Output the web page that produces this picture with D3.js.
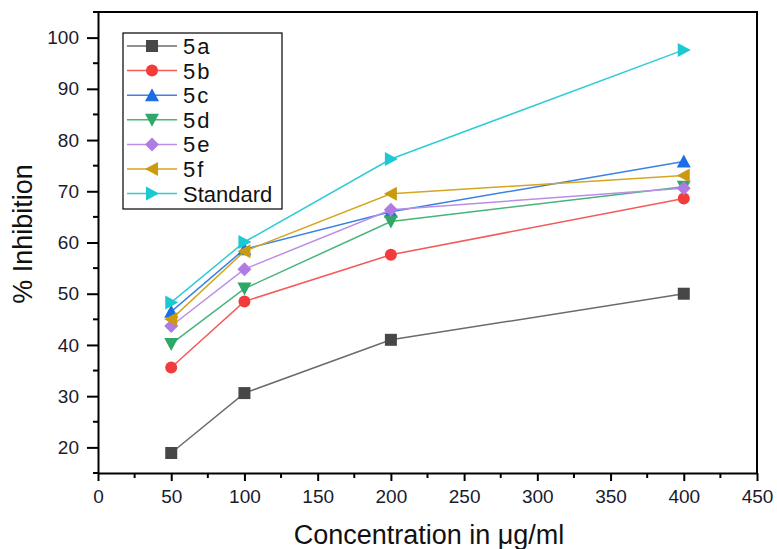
<!DOCTYPE html>
<html>
<head>
<meta charset="utf-8">
<script src="https://cdn.jsdelivr.net/npm/d3@7"></script>
<style>
  body { margin: 0; background: #fff; }
  text { font-family: "Liberation Sans", Arial, sans-serif; }
</style>
</head>
<body>
<div id="chart"></div>
<script>
// Data
var concentrations = [50, 100, 200, 400];
var seriesNames = ["5a", "5b", "5c", "5d", "5e", "5f", "Standard"];
var v5a = [18.9, 30.6, 41.0, 50.0];
var v5b = [35.6, 48.5, 57.6, 68.6];
var v5c = [46.5, 58.7, 66.0, 75.8];
var v5d = [40.2, 51.0, 64.1, 70.9];
var v5e = [43.7, 54.8, 66.4, 70.6];
var v5f = [45.0, 58.3, 69.5, 73.1];
var vStd = [48.3, 60.1, 76.3, 97.6];
var xTicks = [0, 50, 100, 150, 200, 250, 300, 350, 400, 450];
var yTicks = [20, 30, 40, 50, 60, 70, 80, 90, 100];

var colors = ["#474747", "#f23c3c", "#1b6ee3", "#2fa867", "#b07be2", "#cc9a0e", "#1cc8d2"];
var lineColors = ["#6b6b6b", "#f55a5a", "#3a82e6", "#47b47c", "#bb8ee6", "#d5a620", "#30ccd6"];
var shapes = ["square", "circle", "up", "down", "diamond", "left", "right"];
var allValues = [v5a, v5b, v5c, v5d, v5e, v5f, vStd];

var W = 777, H = 549;
var margin = {top: 12, right: 20, bottom: 76, left: 98},
    width = 757 - margin.left,
    height = 473 - margin.top;

var svg = d3.select("#chart")
  .append("svg")
    .attr("width", W)
    .attr("height", H)
  .append("g")
    .attr("transform", "translate(" + margin.left + "," + margin.top + ")");

var x = d3.scaleLinear().domain([0, 450]).range([0, width]);
var y = d3.scaleLinear().domain([15, 105]).range([height, 0]);

// frame (top/right)
svg.append("path")
  .attr("d", "M0,0H" + width + "V" + height)
  .attr("fill", "none")
  .attr("stroke", "#000")
  .attr("stroke-width", 2);

// minor ticks
svg.append("g")
  .selectAll("line")
  .data(d3.range(25, 450, 50))
  .enter().append("line")
    .attr("x1", function(d) { return x(d); })
    .attr("x2", function(d) { return x(d); })
    .attr("y1", height)
    .attr("y2", height + 5)
    .attr("stroke", "#000").attr("stroke-width", 2);
svg.append("g")
  .selectAll("line")
  .data(d3.range(15, 106, 10))
  .enter().append("line")
    .attr("x1", 0).attr("x2", -5)
    .attr("y1", function(d) { return y(d); })
    .attr("y2", function(d) { return y(d); })
    .attr("stroke", "#000").attr("stroke-width", 2);

// X axis
var xAxis = svg.append("g")
  .attr("transform", "translate(0," + height + ")")
  .call(d3.axisBottom(x).tickValues(xTicks).tickSize(8).tickPadding(9).tickSizeOuter(0));
// Y axis
var yAxis = svg.append("g")
  .call(d3.axisLeft(y).tickValues(yTicks).tickSize(11).tickPadding(8).tickSizeOuter(0));

[xAxis, yAxis].forEach(function(a) {
  a.select(".domain").attr("stroke-width", 2);
  a.selectAll(".tick line").attr("stroke-width", 2);
  a.selectAll(".tick text")
    .attr("font-size", 19)
    .attr("fill", "#1a1a2e")
    .style("font-family", "'Liberation Sans', Arial, sans-serif");
});

// marker shapes
function markerPath(shape, s) {
  var h = s / 2;
  switch (shape) {
    case "square": return "M" + (-h) + "," + (-h) + "h" + s + "v" + s + "h" + (-s) + "Z";
    case "circle": return d3.symbol(d3.symbolCircle, Math.PI * h * h)();
    case "up": return "M0," + (-h - 1) + "L" + (h + 1) + "," + (h) + "L" + (-h - 1) + "," + (h) + "Z";
    case "down": return "M0," + (h + 1) + "L" + (h + 1) + "," + (-h) + "L" + (-h - 1) + "," + (-h) + "Z";
    case "left": return "M" + (-h - 1) + ",0L" + h + "," + (-h - 1) + "L" + h + "," + (h + 1) + "Z";
    case "right": return "M" + (h + 1) + ",0L" + (-h) + "," + (-h - 1) + "L" + (-h) + "," + (h + 1) + "Z";
    case "diamond": return "M0," + (-h - 1) + "L" + (h + 1) + ",0L0," + (h + 1) + "L" + (-h - 1) + ",0Z";
  }
}

var line = d3.line()
  .x(function(d) { return x(d[0]); })
  .y(function(d) { return y(d[1]); });

// Lines and markers
allValues.forEach(function(vals, i) {
  var pts = concentrations.map(function(c, j) { return [c, vals[j]]; });
  svg.append("path")
    .datum(pts)
    .attr("d", line)
    .attr("fill", "none")
    .attr("stroke", lineColors[i])
    .attr("stroke-width", 1.5);
  svg.append("g")
    .selectAll("path")
    .data(pts)
    .enter().append("path")
      .attr("transform", function(d) { return "translate(" + x(d[0]) + "," + y(d[1]) + ")"; })
      .attr("d", markerPath(shapes[i], 12))
      .attr("fill", colors[i]);
});

// Legend
var legend = svg.append("g").attr("transform", "translate(" + (123 - margin.left) + "," + (33 - margin.top) + ")");
legend.append("rect")
  .attr("width", 159).attr("height", 176)
  .attr("fill", "#fff").attr("stroke", "#000").attr("stroke-width", 1.2);
seriesNames.forEach(function(name, i) {
  var row = legend.append("g").attr("transform", "translate(0," + (13 + i * 24.6) + ")");
  row.append("line")
    .attr("x1", 4).attr("x2", 54).attr("y1", 0).attr("y2", 0)
    .attr("stroke", lineColors[i]).attr("stroke-width", 1.5);
  row.append("path")
    .attr("transform", "translate(29,0)")
    .attr("d", markerPath(shapes[i], 12))
    .attr("fill", colors[i]);
  row.append("text")
    .attr("x", 60).attr("y", 8)
    .attr("font-size", 22)
    .attr("letter-spacing", name === "Standard" ? 0 : 2)
    .attr("fill", "#111")
    .text(name);
});

// Axis titles
svg.append("text")
  .attr("text-anchor", "middle")
  .attr("x", 429 - margin.left)
  .attr("y", 544 - margin.top)
  .attr("font-size", 27)
  .attr("fill", "#111")
  .text("Concentration in \u03bcg/ml");

svg.append("text")
  .attr("text-anchor", "middle")
  .attr("transform", "translate(" + (32 - margin.left) + "," + (234 - margin.top) + ") rotate(-90)")
  .attr("font-size", 27)
  .attr("fill", "#111")
  .text("% Inhibition");
</script>
</body>
</html>
